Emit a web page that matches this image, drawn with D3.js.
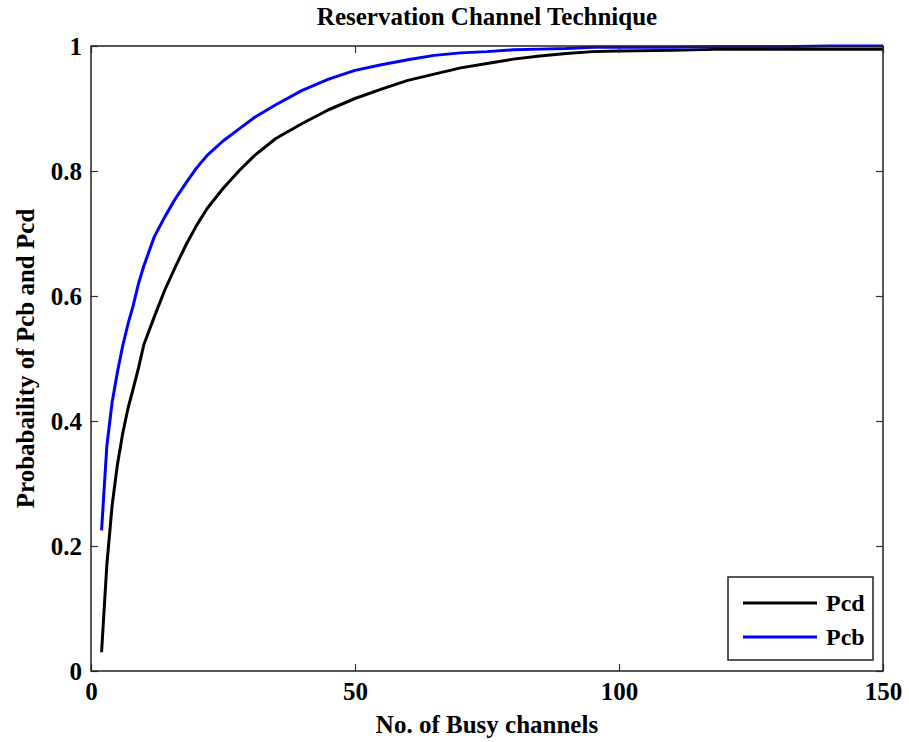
<!DOCTYPE html>
<html>
<head>
<meta charset="utf-8">
<script src="https://cdn.jsdelivr.net/npm/d3@7"></script>
<style>
  body { margin: 0; background: #fff; }
  svg text { font-family: "Liberation Serif", "Times New Roman", serif; font-weight: bold; }
</style>
</head>
<body>
<svg width="909" height="742"></svg>
<script>
// values
var channels = [2, 3, 4, 5, 6, 7, 8, 9, 10, 12, 14, 16, 18, 20, 22, 25, 28, 31, 35, 40, 45, 50,
                55, 60, 65, 70, 75, 80, 85, 90, 95, 100, 110, 120, 130, 140, 150];
var pcd = [0.03, 0.17, 0.265, 0.33, 0.38, 0.42, 0.452, 0.485, 0.522, 0.567, 0.61, 0.647, 0.682, 0.713, 0.74,
           0.772, 0.80, 0.825, 0.852, 0.876, 0.898, 0.916, 0.931, 0.945, 0.955, 0.965, 0.972, 0.979, 0.984,
           0.988, 0.991, 0.992, 0.993, 0.995, 0.995, 0.995, 0.995];
var pcb = [0.225, 0.36, 0.43, 0.478, 0.52, 0.555, 0.585, 0.62, 0.648, 0.695, 0.727, 0.756, 0.781, 0.805, 0.825,
           0.848, 0.867, 0.886, 0.906, 0.929, 0.947, 0.961, 0.97, 0.978, 0.985, 0.989, 0.991, 0.994, 0.995,
           0.996, 0.998, 0.998, 0.998, 0.999, 0.999, 1.0, 1.0];
var xTicks = [0, 50, 100, 150];
var yTicks = [0, 0.2, 0.4, 0.6, 0.8, 1];
var seriesNames = ['Pcd', 'Pcb'];
var seriesColors = ['#000000', '#0000ff'];

var svg = d3.select('svg');
var pLeft = 91, pRight = 883, pTop = 46, pBottom = 671;

var x = d3.scaleLinear().domain([0, 150]).range([pLeft, pRight]);
var y = d3.scaleLinear().domain([0, 1]).range([pBottom, pTop]);

svg.append('rect').attr('width', 909).attr('height', 742).attr('fill', '#fff');

// curves
var line = d3.line()
  .x(function(d) { return x(d[0]); })
  .y(function(d) { return y(d[1]); });

[pcd, pcb].forEach(function(vals, k) {
  svg.append('path')
    .datum(channels.map(function(c, i) { return [c, vals[i]]; }))
    .attr('d', line)
    .attr('fill', 'none')
    .attr('stroke', seriesColors[k])
    .attr('stroke-width', 3)
    .attr('stroke-linejoin', 'round');
});

// axes, ticks pointing inward
function styleAxis(g) {
  g.select('.domain').remove();
  g.selectAll('line').attr('stroke', '#333').attr('stroke-width', 1.2);
  g.selectAll('text').attr('font-size', 25).attr('fill', '#000')
    .style('font-family', '"Liberation Serif", "Times New Roman", serif').style('font-weight', 'bold');
}

svg.append('g').attr('transform', 'translate(0,' + pBottom + ')')
  .call(d3.axisBottom(x).tickValues(xTicks).tickFormat(d3.format('d')).tickSizeInner(-7).tickSizeOuter(0).tickPadding(11))
  .call(styleAxis);
svg.append('g').attr('transform', 'translate(0,' + pTop + ')')
  .call(d3.axisTop(x).tickValues(xTicks).tickFormat('').tickSizeInner(-7).tickSizeOuter(0))
  .call(styleAxis);
svg.append('g').attr('transform', 'translate(' + pLeft + ',0)')
  .call(d3.axisLeft(y).tickValues(yTicks).tickFormat(function(d) { return d === 0 || d === 1 ? String(d) : d3.format('.1f')(d); })
    .tickSizeInner(-7).tickSizeOuter(0).tickPadding(9))
  .call(styleAxis);
svg.append('g').attr('transform', 'translate(' + pRight + ',0)')
  .call(d3.axisRight(y).tickValues(yTicks).tickFormat('').tickSizeInner(-7).tickSizeOuter(0))
  .call(styleAxis);

svg.append('rect')
  .attr('x', pLeft).attr('y', pTop).attr('width', pRight - pLeft).attr('height', pBottom - pTop)
  .attr('fill', 'none').attr('stroke', '#222').attr('stroke-width', 1.5);

// titles
svg.append('text').attr('x', (pLeft + pRight) / 2).attr('y', 25)
  .attr('text-anchor', 'middle').attr('font-size', 25).text('Reservation Channel Technique');
svg.append('text').attr('x', (pLeft + pRight) / 2).attr('y', 733)
  .attr('text-anchor', 'middle').attr('font-size', 25).text('No. of Busy channels');
svg.append('text').attr('transform', 'translate(34,' + (pTop + pBottom) / 2 + ') rotate(-90)')
  .attr('text-anchor', 'middle').attr('font-size', 25).text('Probabaility of Pcb and Pcd');

// legend
var lg = svg.append('g').attr('transform', 'translate(728,577)');
lg.append('rect').attr('width', 145).attr('height', 83)
  .attr('fill', '#fff').attr('stroke', '#222').attr('stroke-width', 1.5);
seriesNames.forEach(function(name, k) {
  var yy = 26 + k * 34;
  lg.append('line').attr('x1', 15).attr('x2', 89).attr('y1', yy).attr('y2', yy)
    .attr('stroke', seriesColors[k]).attr('stroke-width', 3);
  lg.append('text').attr('x', 98).attr('y', yy + 8).attr('font-size', 24).text(name);
});
</script>
</body>
</html>
